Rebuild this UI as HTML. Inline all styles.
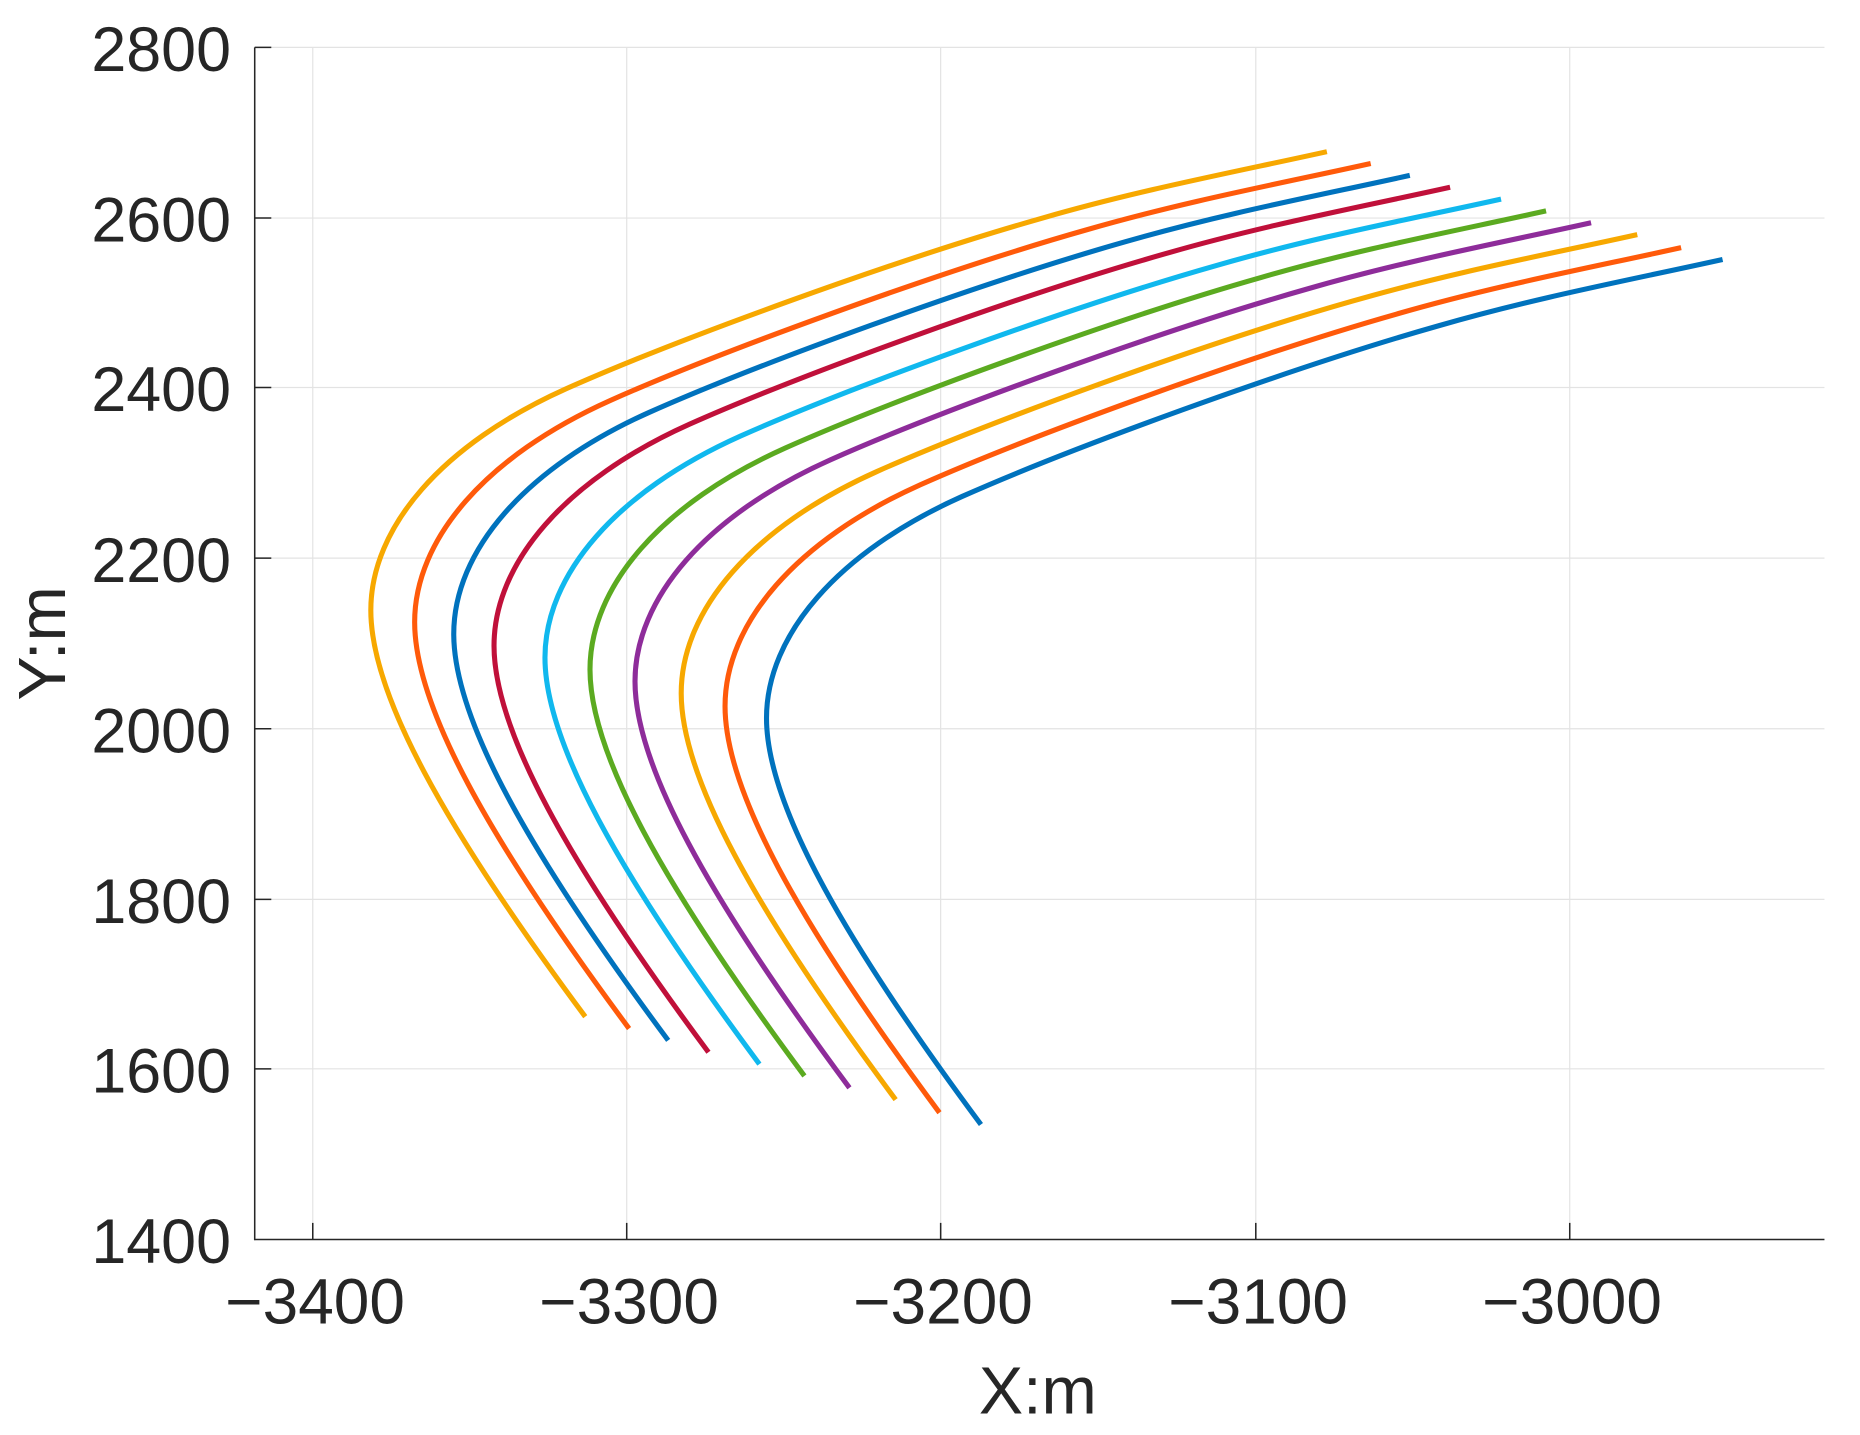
<!DOCTYPE html>
<html><head><meta charset="utf-8"><style>
html,body{margin:0;padding:0;background:#fff;}
svg{display:block;}
text{font-family:"Liberation Sans",Arial,sans-serif;fill:#262626;}
</style></head><body>
<svg width="1860" height="1435" viewBox="0 0 1570 1211" preserveAspectRatio="none" xmlns="http://www.w3.org/2000/svg">
<defs>
<path id="c" d="M181,343 C60,180 0,70 0,0 C0,-70 60,-140 165,-187 C255,-227 440,-295 567,-331 C650,-355 730,-370 807,-387" fill="none" stroke-width="4.3"/>
</defs>
<g stroke="#e3e3e3" stroke-width="1">
<line x1="264" y1="40" x2="264" y2="1046"/>
<line x1="529" y1="40" x2="529" y2="1046"/>
<line x1="794" y1="40" x2="794" y2="1046"/>
<line x1="1060" y1="40" x2="1060" y2="1046"/>
<line x1="1325" y1="40" x2="1325" y2="1046"/>
<line x1="215" y1="40" x2="1540" y2="40"/>
<line x1="215" y1="184" x2="1540" y2="184"/>
<line x1="215" y1="327" x2="1540" y2="327"/>
<line x1="215" y1="471" x2="1540" y2="471"/>
<line x1="215" y1="615" x2="1540" y2="615"/>
<line x1="215" y1="759" x2="1540" y2="759"/>
<line x1="215" y1="902" x2="1540" y2="902"/>
</g>
<g>
<use href="#c" stroke="#F7A800" transform="translate(313,515)"/>
<use href="#c" stroke="#FF5A0A" transform="translate(350,525)"/>
<use href="#c" stroke="#0072BD" transform="translate(383,535)"/>
<use href="#c" stroke="#C0103A" transform="translate(417,545)"/>
<use href="#c" stroke="#10B8EE" transform="translate(460,555)"/>
<use href="#c" stroke="#5BAA20" transform="translate(498,565)"/>
<use href="#c" stroke="#8E2C9A" transform="translate(536,575)"/>
<use href="#c" stroke="#F7A800" transform="translate(575,585)"/>
<use href="#c" stroke="#FF5A0A" transform="translate(612,596)"/>
<use href="#c" stroke="#0072BD" transform="translate(647,606)"/>
</g>
<g stroke="#262626" stroke-width="1.3">
<line x1="215" y1="40" x2="215" y2="1046.5"/>
<line x1="214.5" y1="1046" x2="1540" y2="1046"/>
<line x1="215" y1="40" x2="229" y2="40"/>
<line x1="215" y1="184" x2="229" y2="184"/>
<line x1="215" y1="327" x2="229" y2="327"/>
<line x1="215" y1="471" x2="229" y2="471"/>
<line x1="215" y1="615" x2="229" y2="615"/>
<line x1="215" y1="759" x2="229" y2="759"/>
<line x1="215" y1="902" x2="229" y2="902"/>
<line x1="264" y1="1046" x2="264" y2="1032"/>
<line x1="529" y1="1046" x2="529" y2="1032"/>
<line x1="794" y1="1046" x2="794" y2="1032"/>
<line x1="1060" y1="1046" x2="1060" y2="1032"/>
<line x1="1325" y1="1046" x2="1325" y2="1032"/>
</g>
<g font-size="53" text-anchor="end">
<text x="195" y="60">2800</text>
<text x="195" y="204">2600</text>
<text x="195" y="347">2400</text>
<text x="195" y="491">2200</text>
<text x="195" y="635">2000</text>
<text x="195" y="779">1800</text>
<text x="195" y="922">1600</text>
<text x="195" y="1066">1400</text>
</g>
<g font-size="54" text-anchor="middle">
<text x="266" y="1117">−3400</text>
<text x="531" y="1117">−3300</text>
<text x="796" y="1117">−3200</text>
<text x="1062" y="1117">−3100</text>
<text x="1327" y="1117">−3000</text>
</g>
<text x="876" y="1193" font-size="56" text-anchor="middle">X:m</text>
<text x="0" y="0" font-size="56" text-anchor="middle" transform="translate(55,543) rotate(-90)">Y:m</text>
</svg>
</body></html>
